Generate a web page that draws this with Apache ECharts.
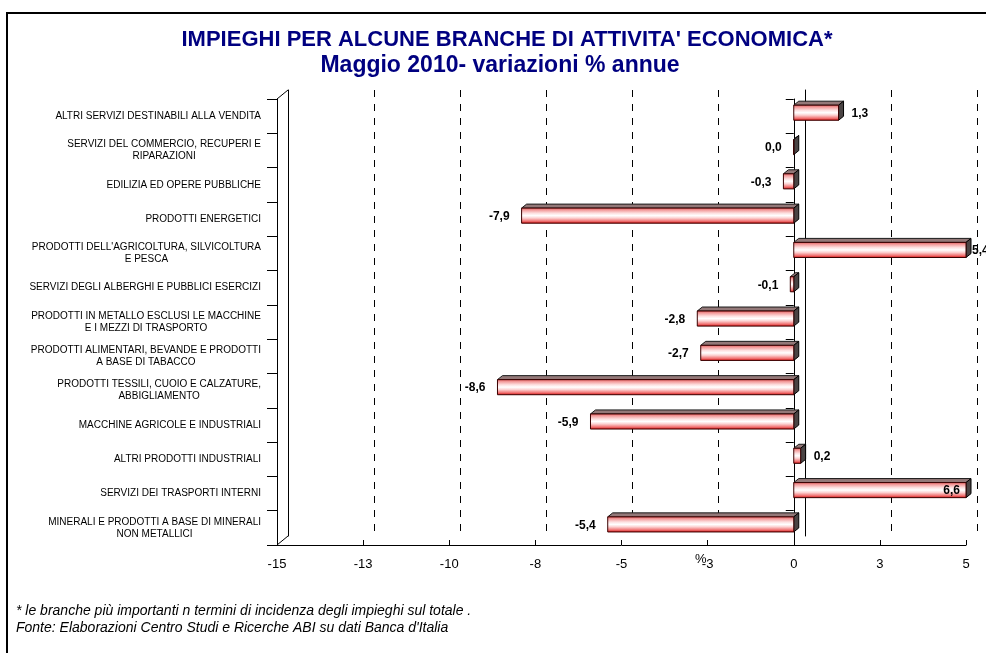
<!DOCTYPE html>
<html>
<head>
<meta charset="utf-8">
<script src="https://cdn.jsdelivr.net/npm/echarts@6/dist/echarts.min.js"></script>
<style>
  html, body { margin: 0; padding: 0; background: #fff; }
  #chart { width: 986px; height: 653px; }
</style>
</head>
<body>
<div id="chart"></div>
<script>
// branche di attivita' (dall'alto verso il basso)
var categorie = [
    "ALTRI SERVIZI DESTINABILI ALLA VENDITA",
    "SERVIZI DEL COMMERCIO, RECUPERI E\nRIPARAZIONI",
    "EDILIZIA ED OPERE PUBBLICHE",
    "PRODOTTI ENERGETICI",
    "PRODOTTI DELL'AGRICOLTURA, SILVICOLTURA\nE PESCA",
    "SERVIZI DEGLI ALBERGHI E PUBBLICI ESERCIZI",
    "PRODOTTI IN METALLO ESCLUSI LE MACCHINE\nE I MEZZI DI TRASPORTO",
    "PRODOTTI ALIMENTARI, BEVANDE E PRODOTTI\nA BASE DI TABACCO",
    "PRODOTTI TESSILI, CUOIO E CALZATURE,\nABBIGLIAMENTO",
    "MACCHINE AGRICOLE E INDUSTRIALI",
    "ALTRI PRODOTTI INDUSTRIALI",
    "SERVIZI DEI TRASPORTI INTERNI",
    "MINERALI E PRODOTTI A BASE DI MINERALI\nNON METALLICI"
];
// variazioni % annue, maggio 2010
var variazioni = [1.3, 0.0, -0.3, -7.9, 5.4, -0.1, -2.8, -2.7, -8.6, -5.9, 0.2, 6.6, -5.4];

// scala asse orizzontale
var xMin = -15, xMax = 5, xStep = 2.5;

var FONT = 'Arial, "Liberation Sans", sans-serif';

function virgola(v) {
    return v.toFixed(1).replace('.', ',');
}

function etichettaAsse(v) {
    var r = Math.round(Math.abs(v));
    return v < 0 ? '-' + r : String(r);
}

// colore frontale della barra (cilindro rosa)
var frontale = {
    type: 'linear', x: 0, y: 0, x2: 0, y2: 1,
    colorStops: [
        { offset: 0, color: '#e05050' },
        { offset: 0.15, color: '#f29a9a' },
        { offset: 0.35, color: '#fde0e0' },
        { offset: 0.5, color: '#ffffff' },
        { offset: 0.65, color: '#fcd2d2' },
        { offset: 0.85, color: '#f07070' },
        { offset: 1, color: '#d00000' }
    ]
};

// barra 3D: faccia frontale + faccia superiore + fianco
function barra3d(params, api) {
    var v = api.value(0);
    var idx = api.value(1);
    var cs = params.coordSys;
    var zero = api.coord([0, idx]);
    var fine = api.coord([v, idx]);
    var banda = api.size([0, 1])[1];

    var xL = Math.max(Math.min(zero[0], fine[0]), cs.x);
    var xR = Math.min(Math.max(zero[0], fine[0]), cs.x + cs.width);
    var h = banda * 0.44;
    var yc = zero[1] - banda * 0.1;
    var top = yc - h / 2, bot = yc + h / 2;
    var dx = 5, dy = 4;

    var tx, align;
    if (v <= 0) {
        tx = xL - 12; align = 'right';
    } else if (v > xMax + 1) {
        tx = xR - 6; align = 'right';
    } else if (v > xMax) {
        tx = xR + dx + 1; align = 'left';
    } else {
        tx = xR + dx + 8; align = 'left';
    }

    return {
        type: 'group',
        children: [
            {
                type: 'polygon',
                shape: { points: [[xL, top], [xL + dx, top - dy], [xR + dx, top - dy], [xR, top]] },
                style: { fill: '#937878', stroke: '#1a1a1a', lineWidth: 1 }
            },
            {
                type: 'polygon',
                shape: { points: [[xR, top], [xR + dx, top - dy], [xR + dx, bot - dy], [xR, bot]] },
                style: { fill: '#4a4444', stroke: '#000', lineWidth: 1 }
            },
            {
                type: 'rect',
                shape: { x: xL, y: top, width: xR - xL, height: h },
                style: { fill: frontale, stroke: '#3a0000', lineWidth: 1 }
            },
            {
                type: 'text',
                style: {
                    x: tx,
                    y: yc + 1,
                    text: virgola(v),
                    align: align,
                    verticalAlign: 'middle',
                    fill: '#000',
                    font: 'bold 12px ' + FONT
                }
            }
        ]
    };
}

var myChart = echarts.init(document.getElementById('chart'));

option = {
    backgroundColor: '#fff',
    animation: false,
    grid: [
        // piano frontale
        { left: 277, right: 20, top: 99, bottom: 108 },
        // parete di fondo (effetto 3D)
        { left: 288, right: 9, top: 90, bottom: 117 }
    ],
    xAxis: [
        {
            gridIndex: 0,
            type: 'value',
            min: xMin,
            max: xMax,
            interval: xStep,
            axisLine: { show: true, onZero: false, lineStyle: { color: '#000', width: 1 } },
            axisTick: { show: true, inside: true, length: 5, lineStyle: { color: '#000' } },
            axisLabel: {
                color: '#000',
                fontFamily: FONT,
                fontSize: 13,
                margin: 13,
                formatter: etichettaAsse
            },
            splitLine: { show: false }
        },
        {
            gridIndex: 1,
            type: 'value',
            min: xMin,
            max: xMax,
            interval: xStep,
            axisLine: { show: false },
            axisTick: { show: false },
            axisLabel: { show: false },
            splitLine: {
                show: true,
                lineStyle: { color: '#000', type: [7, 7], width: 1 }
            }
        }
    ],
    yAxis: [
        {
            gridIndex: 0,
            type: 'category',
            data: categorie,
            inverse: true,
            position: 'left',
            axisLine: { show: true, onZero: false, lineStyle: { color: '#000' } },
            axisTick: { show: true, length: 10, lineStyle: { color: '#000' } },
            axisLabel: {
                margin: 16,
                color: '#000',
                fontFamily: FONT,
                fontSize: 10,
                formatter: function (v) { return '{a|' + v + '}'; },
                rich: {
                    a: { align: 'center', fontFamily: FONT, fontSize: 10, lineHeight: 12, color: '#000' }
                }
            }
        },
        {
            gridIndex: 0,
            type: 'category',
            data: categorie,
            inverse: true,
            position: 'right',
            axisLine: { show: true, onZero: true, lineStyle: { color: '#000' } },
            axisTick: { show: true, inside: true, length: 8, lineStyle: { color: '#000' } },
            axisLabel: { show: false }
        },
        {
            gridIndex: 1,
            type: 'value',
            min: 0,
            max: 1,
            position: 'left',
            axisLine: { show: true, onZero: false, lineStyle: { color: '#000' } },
            axisTick: { show: false },
            axisLabel: { show: false },
            splitLine: { show: false }
        },
        {
            gridIndex: 1,
            type: 'value',
            min: 0,
            max: 1,
            position: 'right',
            axisLine: { show: true, onZero: true, lineStyle: { color: '#000' } },
            axisTick: { show: false },
            axisLabel: { show: false },
            splitLine: { show: false }
        }
    ],
    graphic: [
        {
            type: 'rect',
            z: -10,
            shape: { x: 7, y: 13, width: 1200, height: 900 },
            style: { fill: 'none', stroke: '#000', lineWidth: 2 }
        },
        {
            type: 'text',
            x: 507,
            y: 40,
            style: {
                text: "IMPIEGHI PER ALCUNE BRANCHE DI ATTIVITA' ECONOMICA*",
                align: 'center',
                verticalAlign: 'middle',
                fill: '#000080',
                font: 'bold 22px ' + FONT
            }
        },
        {
            type: 'text',
            x: 500,
            y: 66,
            style: {
                text: 'Maggio 2010- variazioni % annue',
                align: 'center',
                verticalAlign: 'middle',
                fill: '#000080',
                font: 'bold 23px ' + FONT
            }
        },
        {
            type: 'line',
            shape: { x1: 277, y1: 99, x2: 288, y2: 90 },
            style: { stroke: '#000', lineWidth: 1 }
        },
        {
            type: 'line',
            shape: { x1: 277, y1: 545, x2: 288, y2: 536 },
            style: { stroke: '#000', lineWidth: 1 }
        },
        {
            type: 'text',
            x: 695,
            y: 553,
            style: { text: '%', fill: '#000', font: '13px ' + FONT }
        },
        {
            type: 'text',
            x: 16,
            y: 604,
            style: {
                text: '* le branche più importanti n termini di incidenza degli impieghi sul totale .',
                fill: '#000',
                font: 'italic 14px ' + FONT
            }
        },
        {
            type: 'text',
            x: 16,
            y: 621,
            style: {
                text: "Fonte: Elaborazioni Centro Studi e Ricerche ABI su dati Banca d'Italia",
                fill: '#000',
                font: 'italic 14px ' + FONT
            }
        }
    ],
    series: [
        {
            name: 'variazioni',
            type: 'custom',
            xAxisIndex: 0,
            yAxisIndex: 0,
            renderItem: barra3d,
            encode: { x: 0, y: 1 },
            data: variazioni.map(function (v, i) { return [v, i]; }),
            z: 5
        }
    ]
};
myChart.setOption(option);
</script>
</body>
</html>
